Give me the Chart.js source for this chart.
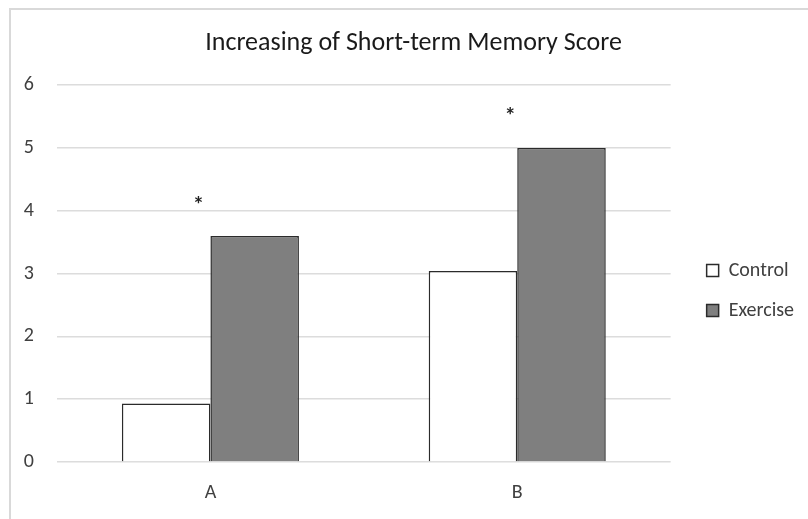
<html>
  <head>
    <meta http-equiv="Content-Type" content="text/html; charset=UTF-8" />
    <script src="https://cdn.jsdelivr.net/npm/chart.js@4.4.1/dist/chart.umd.min.js"></script>
    <style>
      body { margin: 0; background: #fff; overflow: hidden; }
      #frame {
        position: absolute; left: 9px; top: 8px; width: 900px; height: 600px;
        border-left: 2px solid #d9d9d9; border-top: 2px solid #d9d9d9;
      }
      #wrap { position: absolute; left: 0; top: 0; width: 808px; height: 519px; }
    </style>
  </head>
  <body>
    <div id="frame"></div>
    <div id="wrap"><canvas id="memory-chart" width="808" height="519"></canvas></div>

    <script type="text/javascript">
      // Values
      var categories = ['A', 'B']
      var controlScores = [0.93, 3.04]
      var exerciseScores = [3.6, 5.0]
      // height of the significance asterisk above each group
      var sigMarkY = [4.2, 5.62]
      var sigMarkText = ['*', '*']

      var fontFamily = "Carlito, Lato, 'Open Sans', sans-serif"
      var textColor = '#404040'

      // Draws the "*" marks above each group, using the chart's own scales
      var sigPlugin = {
        id: 'sigMarks',
        afterDatasetsDraw: function (chart) {
          var ctx = chart.ctx
          var xs = chart.scales.x
          var ys = chart.scales.y
          var shift = [-12, -7]
          ctx.save()
          ctx.fillStyle = '#222'
          ctx.font = "bold 23px " + fontFamily
          ctx.textAlign = 'center'
          ctx.textBaseline = 'middle'
          for (var i = 0; i < categories.length; i++) {
            ctx.fillText(sigMarkText[i], xs.getPixelForValue(i) + shift[i], ys.getPixelForValue(sigMarkY[i]) + 8)
          }
          ctx.restore()
        }
      }

      var ctx = document.getElementById('memory-chart').getContext('2d')
      var memoryChart = new Chart(ctx, {
        type: 'bar',
        data: {
          labels: categories,
          datasets: [{
            label: 'Control',
            data: controlScores,
            backgroundColor: '#ffffff',
            borderColor: '#2b2b2b',
            borderWidth: 1.5
          }, {
            label: 'Exercise',
            data: exerciseScores,
            backgroundColor: '#7f7f7f',
            borderColor: '#2b2b2b',
            borderWidth: 1.5
          }]
        },
        plugins: [sigPlugin],
        options: {
          responsive: false,
          animation: false,
          datasets: {
            bar: { categoryPercentage: 0.577, barPercentage: 1.0 }
          },
          layout: { padding: { left: 23, right: 4, top: 12, bottom: 14 } },
          plugins: {
            title: {
              display: true,
              text: 'Increasing of Short-term Memory Score',
              color: '#1a1a1a',
              font: { family: fontFamily, size: 26, weight: 'normal' },
              padding: { top: 16, bottom: 26 }
            },
            legend: {
              position: 'right',
              // empty title only pushes the items a bit lower, as in the source
              title: { display: true, text: '', font: { size: 20 }, padding: { top: 40, bottom: 0 } },
              labels: {
                color: textColor,
                font: { family: fontFamily, size: 20 },
                boxWidth: 12,
                boxHeight: 12,
                padding: 20
              }
            },
            tooltip: { enabled: false }
          },
          scales: {
            x: {
              grid: { display: false, drawTicks: false },
              border: { display: false },
              ticks: { color: textColor, font: { family: fontFamily, size: 20 }, padding: 19 },
              afterFit: function (scale) { scale.height = 43 }
            },
            y: {
              min: 0,
              max: 6,
              ticks: { stepSize: 1, color: textColor, font: { family: fontFamily, size: 20 }, padding: 23 },
              grid: { color: '#dcdcdc', lineWidth: 1.5, drawTicks: false },
              border: { display: false },
              afterFit: function (scale) { scale.width = 34 }
            },
            // spacer between plot and legend
            gap: {
              position: 'right',
              display: true,
              grid: { display: false },
              ticks: { display: false },
              border: { display: false },
              afterFit: function (scale) { scale.width = 16 }
            }
          }
        }
      })
    </script>
  </body>
</html>
